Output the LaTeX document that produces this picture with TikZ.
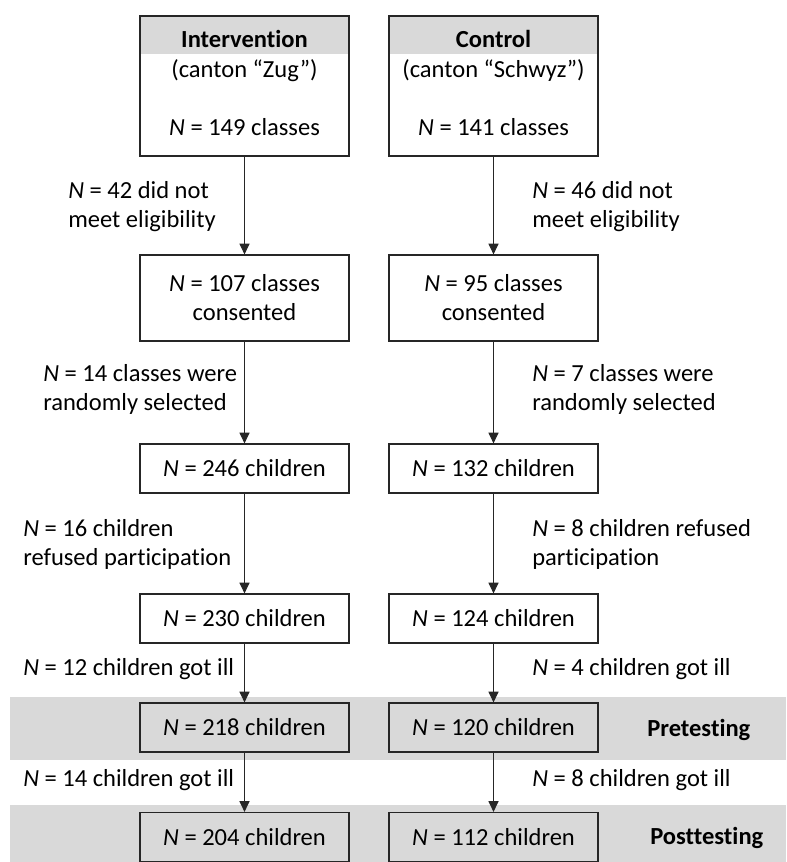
\documentclass[tikz,border=0pt]{standalone}
\usepackage{fontspec}
\setmainfont{Carlito}[Ligatures={NoCommon,NoRare}]
\usetikzlibrary{arrows.meta}

\definecolor{bandgray}{HTML}{D9D9D9}
\definecolor{linegray}{HTML}{262626}

\begin{document}
\begin{tikzpicture}[x=0.75pt,y=-0.75pt,
  every node/.style={font=\fontsize{18.4}{21.75}\selectfont, inner sep=0pt},
  box/.style={draw=linegray, line width=0.9pt, minimum width=156.75pt, minimum height=36.75pt, align=center},
  tallbox/.style={box, minimum height=64.5pt},
  topbox/.style={box, minimum height=105pt},
  note/.style={anchor=west, align=left},
  stage/.style={anchor=west, font=\fontsize{18.4}{21.75}\selectfont\bfseries},
  arr/.style={draw=linegray, line width=0.75pt, -{Triangle[length=8pt,width=7.5pt]}}]
  \useasboundingbox (0,0) rectangle (786,862);

  % grey bands and headers
  \fill[bandgray] (10,697) rectangle (786,760);
  \fill[bandgray] (10,805) rectangle (786,862);
  \fill[bandgray] (140,16) rectangle (349,54);
  \fill[bandgray] (389,16) rectangle (598,54);

  % intervention column
  \node[topbox] (int) at (244.5,86) {};
  \node[font=\fontsize{18.4}{21.75}\selectfont\bfseries] (inthead) at (244.5,39) {Intervention};
  \node (intcanton) at (244.5,71) {(canton “Zug”)};
  \node (intnum) at (244.5,127) {\textit{N} = 149 classes};
  \node[tallbox] (intcons) at (244.5,298) {\textit{N} = 107 classes\\consented};
  \node[box] (intsel) at (244.5,468.5) {\textit{N} = 246 children};
  \node[box] (intpart) at (244.5,618.5) {\textit{N} = 230 children};
  \node[box] (intpre) at (244.5,727.5) {\textit{N} = 218 children};
  \node[box] (intpost) at (244.5,837) {\textit{N} = 204 children};

  % control column
  \node[topbox] (con) at (493.5,86) {};
  \node[font=\fontsize{18.4}{21.75}\selectfont\bfseries] (conhead) at (493.5,39) {Control};
  \node (concanton) at (493.5,71) {(canton “Schwyz”)};
  \node (connum) at (493.5,127) {\textit{N} = 141 classes};
  \node[tallbox] (concons) at (493.5,298) {\textit{N} = 95 classes\\consented};
  \node[box] (consel) at (493.5,468.5) {\textit{N} = 132 children};
  \node[box] (conpart) at (493.5,618.5) {\textit{N} = 124 children};
  \node[box] (conpre) at (493.5,727.5) {\textit{N} = 120 children};
  \node[box] (conpost) at (493.5,837) {\textit{N} = 112 children};

  \draw[arr] (int) -- (intcons);
  \draw[arr] (intcons) -- (intsel);
  \draw[arr] (intsel) -- (intpart);
  \draw[arr] (intpart) -- (intpre);
  \draw[arr] (intpre) -- (intpost);
  \draw[arr] (con) -- (concons);
  \draw[arr] (concons) -- (consel);
  \draw[arr] (consel) -- (conpart);
  \draw[arr] (conpart) -- (conpre);
  \draw[arr] (conpre) -- (conpost);

  % drop-out notes
  \node[note] (intelig) at (68,206.5) {\textit{N} = 42 did not\\meet eligibility};
  \node[note] (intrand) at (43,389.5) {\textit{N} = 14 classes were\\randomly selected};
  \node[note] (intrefu) at (23,544) {\textit{N} = 16 children\\refused participation};
  \node[note] (intill) at (23,669) {\textit{N} = 12 children got ill};
  \node[note] (intill2) at (23,780) {\textit{N} = 14 children got ill};
  \node[note] (conelig) at (532,206.5) {\textit{N} = 46 did not\\meet eligibility};
  \node[note] (conrand) at (532,389.5) {\textit{N} = 7 classes were\\randomly selected};
  \node[note] (conrefu) at (532,544) {\textit{N} = 8 children refused\\participation};
  \node[note] (conill) at (532,669) {\textit{N} = 4 children got ill};
  \node[note] (conill2) at (532,780) {\textit{N} = 8 children got ill};

  \node[stage] (pretest) at (647,730) {Pretesting};
  \node[stage] (posttest) at (650,838) {Posttesting};
\end{tikzpicture}
\end{document}
